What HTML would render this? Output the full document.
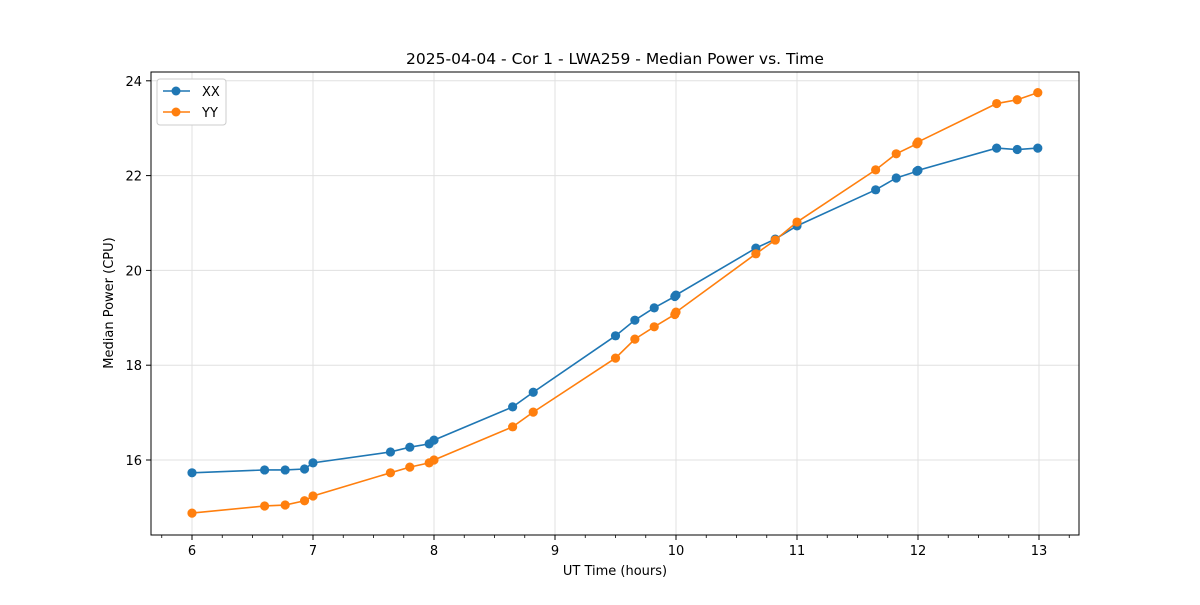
<!DOCTYPE html>
<html><head><meta charset="utf-8"><style>
body{margin:0;background:#fff;}
svg text{font-family:"DejaVu Sans","Liberation Sans",sans-serif;fill:#000;}
</style></head><body>
<svg id="chart" width="1200" height="600" xmlns="http://www.w3.org/2000/svg">
<rect width="1200" height="600" fill="#fff"/>
<text x="615" y="64" font-size="15.5" text-anchor="middle">2025-04-04 - Cor 1 - LWA259 - Median Power vs. Time</text>
<g id="grid"></g>
<g id="ticks"></g>
<g id="series"></g>
<rect x="151" y="72" width="928" height="463" fill="none" stroke="#000" stroke-width="1"/>
<text x="615" y="575" font-size="13" text-anchor="middle">UT Time (hours)</text>
<text transform="translate(113,303) rotate(-90)" font-size="13" text-anchor="middle">Median Power (CPU)</text>
<g>
<rect x="157" y="79" width="69" height="46" fill="#fff" stroke="#ccc" rx="3"/>
<g><line x1="163" y1="91" x2="190" y2="91" stroke="#1f77b4" stroke-width="1.5"/><circle cx="176" cy="91" r="4.5" fill="#1f77b4"/><text x="202" y="96" font-size="13">XX</text></g>
<g><line x1="163" y1="112" x2="190" y2="112" stroke="#ff7f0e" stroke-width="1.5"/><circle cx="176" cy="112" r="4.5" fill="#ff7f0e"/><text x="202" y="117" font-size="13">YY</text></g>
</g>
</svg>
<script>
const times=[6.0,6.6,6.77,6.93,7.0,7.64,7.8,7.96,8.0,8.65,8.82,9.5,9.66,9.82,9.99,10.0,10.66,10.82,11.0,11.65,11.82,11.99,12.0,12.65,12.82,12.99];
const xxValues=[15.73,15.79,15.79,15.81,15.94,16.17,16.27,16.34,16.42,17.12,17.43,18.62,18.95,19.21,19.45,19.48,20.47,20.66,20.94,21.70,21.95,22.09,22.11,22.58,22.55,22.58];
const yyValues=[14.88,15.03,15.05,15.14,15.24,15.73,15.85,15.94,16.0,16.70,17.01,18.15,18.55,18.81,19.07,19.12,20.35,20.64,21.02,22.12,22.46,22.67,22.71,23.52,23.60,23.75];
const xTicks=[6,7,8,9,10,11,12,13];
const yTicks=[16,18,20,22,24];
const NS="http://www.w3.org/2000/svg";
function sx(t){return 192+(t-6)*121;}
function sy(v){return 460-(v-16)*47.4;}
function mk(tag,attrs,parent){const e=document.createElementNS(NS,tag);for(const k in attrs)e.setAttribute(k,attrs[k]);parent.appendChild(e);return e;}
const grid=document.getElementById('grid'),ticks=document.getElementById('ticks'),series=document.getElementById('series');
xTicks.forEach(t=>{
  const g=mk('line',{x1:sx(t),x2:sx(t),y1:72,y2:535,stroke:'#e0e0e0','stroke-width':1},grid);
  
  
  mk('line',{x1:sx(t),x2:sx(t),y1:535,y2:540,stroke:'#000'},ticks);
  const tx=mk('text',{x:sx(t),y:555,'font-size':13,'text-anchor':'middle'},ticks);
  tx.textContent=t;
  
  
});
for(let t=5.75;t<=13.3;t+=0.25){if(Math.abs(t-Math.round(t))<0.01)continue;const x=sx(t);if(x<151||x>1079)continue;mk('line',{x1:x,x2:x,y1:535,y2:538,stroke:'#000','stroke-width':0.8},ticks);}
yTicks.forEach(v=>{
  const g=mk('line',{x1:151,x2:1079,y1:sy(v),y2:sy(v),stroke:'#e0e0e0','stroke-width':1},grid);
  
  
  mk('line',{x1:146,x2:151,y1:sy(v),y2:sy(v),stroke:'#000'},ticks);
  const tx=mk('text',{x:142,y:sy(v)+5,'font-size':13,'text-anchor':'end'},ticks);
  tx.textContent=v;
  
  
});
function draw(vals,color,name){
  const pl=mk('polyline',{points:times.map((t,i)=>sx(t)+','+sy(vals[i])).join(' '),fill:'none',stroke:color,'stroke-width':1.6},series);
  
  
  times.forEach((t,i)=>{
    const c=mk('circle',{cx:sx(t),cy:sy(vals[i]),r:4.6,fill:color},series);
    
    
  });
}
draw(xxValues,'#1f77b4','xx');
draw(yyValues,'#ff7f0e','yy');
</script>
</body></html>
